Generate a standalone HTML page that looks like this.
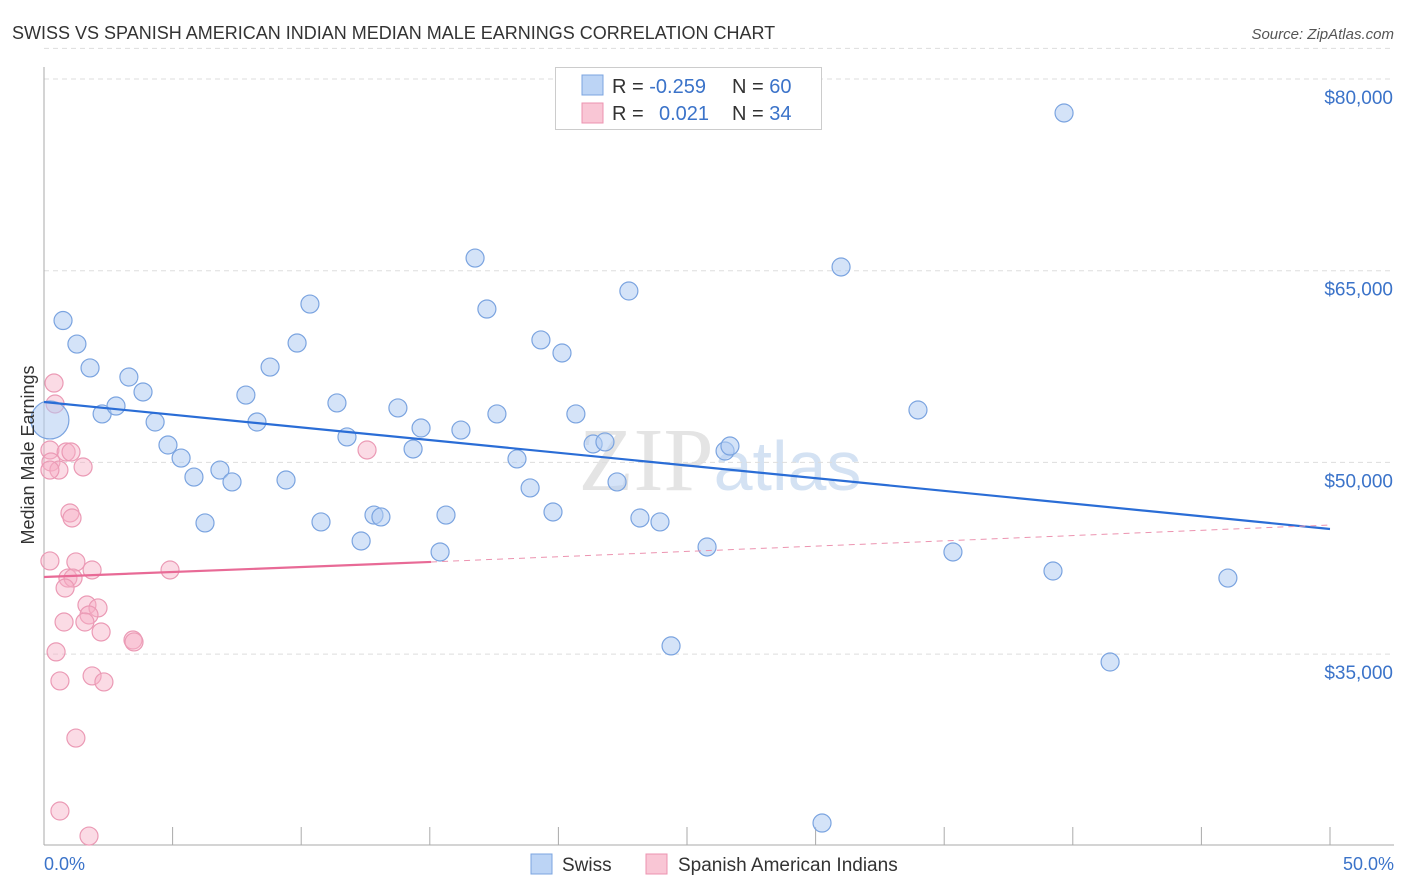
<!DOCTYPE html>
<html><head><meta charset="utf-8"><style>
body{margin:0;background:#fff;font-family:"Liberation Sans",sans-serif}
svg{display:block}
</style></head><body>
<svg width="1406" height="892" xmlns="http://www.w3.org/2000/svg">
<text x="12" y="39" font-size="18" fill="#333">SWISS VS SPANISH AMERICAN INDIAN MEDIAN MALE EARNINGS CORRELATION CHART</text>
<text x="1394" y="39" font-size="15" fill="#555" font-style="italic" text-anchor="end">Source: ZipAtlas.com</text>
<text x="720" y="490" font-size="90" fill="#e4e4e4" text-anchor="middle" font-family="Liberation Serif,serif">ZIP<tspan fill="#d4e2f3" font-family="Liberation Sans,sans-serif" font-size="70">atlas</tspan></text>
<g id="grid"></g>
<g id="axes"></g>
<g id="marks"></g>
<text transform="translate(34,455) rotate(-90)" font-size="18" fill="#333" text-anchor="middle">Median Male Earnings</text>
<text x="44" y="870" font-size="18" fill="#3b73c9">0.0%</text>
<text x="1394" y="870" font-size="18" fill="#3b73c9" text-anchor="end">50.0%</text>
<g>
<rect x="555.5" y="67.5" width="266" height="62" fill="#fff" stroke="#ccc"/>
<rect x="582" y="75" width="21" height="20" fill="#bcd4f5" stroke="#7ba4e0"/>
<rect x="582" y="103" width="21" height="20" fill="#f9c6d5" stroke="#ec93b0"/>
<text x="612" y="93" font-size="20" fill="#333">R = <tspan fill="#3b73c9">-0.259</tspan></text>
<text x="732" y="93" font-size="20" fill="#333">N = <tspan fill="#3b73c9">60</tspan></text>
<text x="612" y="120" font-size="20" fill="#333">R = </text>
<text x="659" y="120" font-size="20" fill="#3b73c9">0.021</text>
<text x="732" y="120" font-size="20" fill="#333">N = <tspan fill="#3b73c9">34</tspan></text>
</g>
<g>
<rect x="531" y="854" width="21" height="20" fill="#bcd4f5" stroke="#7ba4e0"/>
<text x="562" y="871" font-size="19" fill="#333">Swiss</text>
<rect x="646" y="854" width="21" height="20" fill="#f9c6d5" stroke="#ec93b0"/>
<text x="678" y="871" font-size="19" fill="#333">Spanish American Indians</text>
</g>
</svg>
<script>
const yTicks=[80000,65000,50000,35000];
const yTickLabels=["$80,000","$65,000","$50,000","$35,000"];
const xTicks=[0,5,10,15,20,25,30,35,40,45,50];
const swissX=[0.74,1.28,1.79,2.26,2.80,3.30,3.85,4.32,4.82,5.33,5.83,6.26,6.84,7.31,7.85,8.28,8.79,9.41,9.84,10.34,10.77,11.39,11.78,12.33,12.83,13.10,13.76,14.35,14.66,15.63,15.40,16.21,16.76,17.22,17.61,18.39,18.90,19.32,19.79,20.14,20.68,21.35,21.81,22.28,22.74,23.17,23.95,24.38,25.78,26.48,26.67,30.99,33.98,35.34,39.23,39.66,41.45,46.03,30.25,0.23];
const swissY=[61100,59260,57390,53790,54410,56680,55510,53160,51360,50340,48850,45260,49400,48470,55270,53160,57460,48620,59340,62390,45340,54650,51990,43850,45880,45730,54260,51050,52690,45880,42990,52530,65990,62000,53790,50270,48000,59580,46120,58560,53790,51440,51600,48470,63410,45650,45340,35640,43380,50890,51280,65290,54100,42990,41500,77340,34380,40950,21780,53320];
const swissR=[9,9,9,9,9,9,9,9,9,9,9,9,9,9,9,9,9,9,9,9,9,9,9,9,9,9,9,9,9,9,9,9,9,9,9,9,9,9,9,9,9,9,9,9,9,9,9,9,9,9,9,9,9,9,9,9,9,9,9,19];
const spanX=[0.39,0.43,0.23,0.27,0.58,0.86,1.05,1.52,1.01,1.09,0.23,1.24,1.87,0.93,1.13,0.82,1.67,2.10,1.75,1.59,0.78,2.22,3.46,3.50,0.47,0.62,1.87,2.33,1.24,0.62,1.75,4.90,12.56,0.23];
const spanY=[56210,54570,50970,50030,49400,50810,50810,49640,46040,45650,42290,42210,41580,40950,40950,40170,38840,38610,38060,37510,37510,36730,36100,35950,35170,32900,33290,32820,28430,22720,20760,41580,50970,49400];
const swissTrend=[[0,54725],[50,44790]];
const spanTrend=[[0,41030],[15.05,42210],[50,45100]];
const NS="http://www.w3.org/2000/svg";
const xs=v=>44+v*25.72;
const ys=v=>79+(80000-v)/78.25;
function mk(tag,attrs,parent){const e=document.createElementNS(NS,tag);for(const k in attrs)e.setAttribute(k,attrs[k]);parent.appendChild(e);return e;}
const grid=document.getElementById('grid'),axes=document.getElementById('axes'),marks=document.getElementById('marks');
yTicks.forEach((t,i)=>{
 const l=mk('line',{x1:44,x2:1394,y1:ys(t),y2:ys(t),stroke:'#ddd','stroke-dasharray':'5,4'},grid);
 
 
 const tx=mk('text',{x:1393,y:ys(t)+25,'font-size':19,fill:'#3b73c9','text-anchor':'end'},axes);
 tx.textContent=yTickLabels[i];
 
 
});
const tl=mk('line',{x1:44,x2:1394,y1:ys(82400),y2:ys(82400),stroke:'#ddd','stroke-dasharray':'5,4'},grid);


const ya=mk('line',{x1:44,x2:44,y1:67,y2:845,stroke:'#aaa'},axes);


const xa=mk('line',{x1:44,x2:1394,y1:845,y2:845,stroke:'#aaa'},axes);


xTicks.forEach(t=>{
 const k=mk('line',{x1:xs(t),x2:xs(t),y1:827,y2:845,stroke:'#aaa'},axes);
 
 
});
spanX.forEach((x,i)=>{
 const c=mk('circle',{cx:xs(x),cy:ys(spanY[i]),r:9,fill:'rgba(246,176,198,0.45)',stroke:'#eb9ab5','stroke-width':1.2},marks);
 
 
});
swissX.forEach((x,i)=>{
 const c=mk('circle',{cx:xs(x),cy:ys(swissY[i]),r:swissR[i],fill:'rgba(176,204,242,0.55)',stroke:'#7ba4e0','stroke-width':1.2},marks);
 
 
});
const bl=mk('line',{x1:xs(swissTrend[0][0]),y1:ys(swissTrend[0][1]),x2:xs(swissTrend[1][0]),y2:ys(swissTrend[1][1]),stroke:'#2a6dd6','stroke-width':2.2},marks);


const pl=mk('line',{x1:xs(spanTrend[0][0]),y1:ys(spanTrend[0][1]),x2:xs(spanTrend[1][0]),y2:ys(spanTrend[1][1]),stroke:'#e86a96','stroke-width':2.2},marks);


const pd=mk('line',{x1:xs(spanTrend[1][0]),y1:ys(spanTrend[1][1]),x2:xs(spanTrend[2][0]),y2:ys(spanTrend[2][1]),stroke:'#ec93b0','stroke-width':1,'stroke-dasharray':'6,5'},marks);


</script>
</body></html>
